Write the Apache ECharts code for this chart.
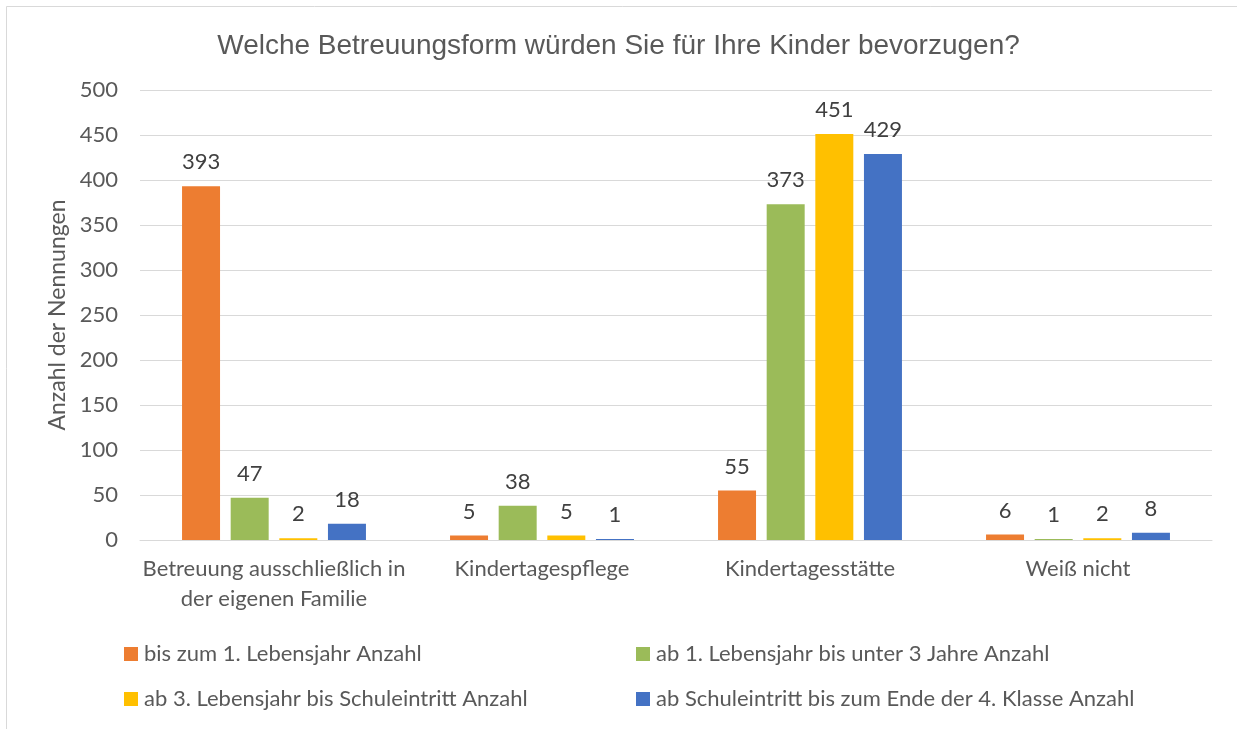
<!DOCTYPE html>
<html>
<head>
<meta charset="utf-8">
<script src="https://cdn.jsdelivr.net/npm/echarts@6/dist/echarts.min.js"></script>
<style>
  html, body { margin: 0; padding: 0; background: #fff; }
  #chart { width: 1237px; height: 729px; }
</style>
</head>
<body>
<div id="chart"></div>
<script>
var categories = ['Betreuung ausschließlich in\nder eigenen Familie', 'Kindertagespflege', 'Kindertagesstätte', 'Weiß nicht'];
var seriesNames = [
  'bis zum 1. Lebensjahr Anzahl',
  'ab 1. Lebensjahr bis unter 3 Jahre Anzahl',
  'ab 3. Lebensjahr bis Schuleintritt Anzahl',
  'ab Schuleintritt bis zum Ende der 4. Klasse Anzahl'
];
var bisEins = [393, 5, 55, 6];
var einsBisDrei = [47, 38, 373, 1];
var dreiBisSchule = [2, 5, 451, 2];
var schuleBisVier = [18, 1, 429, 8];
var colors = ['#ED7D31', '#9BBB59', '#FFC000', '#4472C4'];

var labelFont = 'Lato, "Noto Sans", sans-serif';

function makeSeries(i, values) {
  return {
    name: seriesNames[i],
    type: 'bar',
    data: values,
    barWidth: 38,
    barGap: '28%',
    itemStyle: { color: colors[i] },
    label: {
      show: true,
      position: 'top',
      distance: 13,
      color: '#404040',
      fontSize: 22,
      fontFamily: labelFont
    }
  };
}

function makeLegend(left, names) {
  return {
    orient: 'vertical',
    left: left,
    top: 643,
    padding: 0,
    itemWidth: 14,
    itemHeight: 14,
    itemGap: 23,
    icon: 'rect',
    data: names,
    textStyle: { fontFamily: labelFont, fontSize: 22, color: '#595959', padding: [0, 0, 0, 1] }
  };
}

var chart = echarts.init(document.getElementById('chart'));
var option = {
  animation: false,
  backgroundColor: '#fff',
  graphic: [{
    type: 'rect',
    shape: { x: 6.5, y: 6.5, width: 1400, height: 900 },
    style: { fill: 'none', stroke: '#d9d9d9', lineWidth: 1 },
    silent: true
  }],
  title: {
    text: 'Welche Betreuungsform würden Sie für Ihre Kinder bevorzugen?',
    left: 'center',
    top: 27,
    textStyle: {
      fontFamily: '"Liberation Sans", Arial, sans-serif',
      fontSize: 28,
      fontWeight: 'normal',
      color: '#595959'
    }
  },
  legend: [
    makeLegend(124, [seriesNames[0], seriesNames[2]]),
    makeLegend(636, [seriesNames[1], seriesNames[3]])
  ],
  grid: { left: 140, right: 25, top: 90, bottom: 189, containLabel: false },
  xAxis: {
    type: 'category',
    data: categories,
    axisLine: { lineStyle: { color: '#d9d9d9', width: 1 } },
    axisTick: { show: false },
    axisLabel: {
      margin: 14,
      color: '#595959',
      fontSize: 22,
      lineHeight: 30,
      fontFamily: labelFont,
      interval: 0
    }
  },
  yAxis: {
    type: 'value',
    min: 0,
    max: 500,
    interval: 50,
    name: 'Anzahl der Nennungen',
    nameLocation: 'middle',
    nameGap: 68,
    nameTextStyle: { fontFamily: labelFont, fontSize: 23, color: '#595959' },
    axisLine: { show: false },
    axisTick: { show: false },
    axisLabel: { margin: 22, color: '#595959', fontSize: 22, fontFamily: labelFont },
    splitLine: { lineStyle: { color: '#d9d9d9', width: 1 } }
  },
  series: [
    makeSeries(0, bisEins),
    makeSeries(1, einsBisDrei),
    makeSeries(2, dreiBisSchule),
    makeSeries(3, schuleBisVier)
  ]
};
chart.setOption(option);
</script>
</body>
</html>
